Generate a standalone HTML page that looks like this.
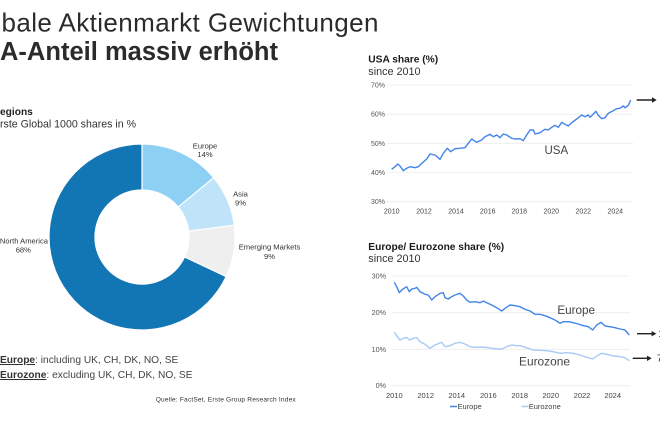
<!DOCTYPE html>
<html><head><meta charset="utf-8"><style>
html,body{margin:0;padding:0;background:#fff;}
svg{display:block;font-family:"Liberation Sans",Arial,sans-serif;}
</style></head><body>
<svg width="660" height="440" viewBox="0 0 660 440" xmlns="http://www.w3.org/2000/svg">
<rect width="660" height="440" fill="#fff"/>
<!-- Titles -->
<text x="1.5" y="31.5" font-size="26" fill="#2b2b2b" textLength="377" lengthAdjust="spacing">bale Aktienmarkt Gewichtungen</text>
<text x="0" y="60" font-size="25.5" font-weight="bold" fill="#2b2b2b" textLength="278" lengthAdjust="spacing">A-Anteil massiv erhöht</text>

<text x="0" y="115" font-size="10.2" font-weight="bold" fill="#222">egions</text>
<text x="0" y="127.5" font-size="10.6" fill="#333">rste Global 1000 shares in %</text>

<!-- Donut -->
<g stroke="#fff" stroke-width="1.2">
<path d="M142,144 A93,93 0 0 1 213.66,177.72 L178.21,207.04 A47,47 0 0 0 142,190 Z" fill="#8dd0f3"/>
<path d="M213.66,177.72 A93,93 0 0 1 234.27,225.34 L188.63,231.11 A47,47 0 0 0 178.21,207.04 Z" fill="#bfe3f8"/>
<path d="M234.27,225.34 A93,93 0 0 1 226.15,276.60 L184.53,257.01 A47,47 0 0 0 188.63,231.11 Z" fill="#efefef"/>
<path d="M226.15,276.60 A93,93 0 1 1 142,144 L142,190 A47,47 0 1 0 184.53,257.01 Z" fill="#1276b4"/>
</g>
<g font-size="7.6" fill="#333" text-anchor="middle">
<text x="205" y="148.5">Europe</text><text x="205" y="157">14%</text>
<text x="240.5" y="196.5">Asia</text><text x="240.5" y="205.5">9%</text>
<text x="269.5" y="249.5">Emerging Markets</text><text x="269.5" y="259">9%</text>
<text x="48" y="243.5" text-anchor="end">North America</text><text x="23.3" y="252.5">68%</text>
</g>

<!-- Footnotes -->
<text x="0" y="363" font-size="10.2" fill="#444"><tspan font-weight="bold" fill="#333" text-decoration="underline">Europe</tspan>: including UK, CH, DK, NO, SE</text>
<text x="0" y="378" font-size="10.2" fill="#444"><tspan font-weight="bold" fill="#333" text-decoration="underline">Eurozone</tspan>: excluding UK, CH, DK, NO, SE</text>
<text x="155.7" y="401.5" font-size="6.6" fill="#333" textLength="140" lengthAdjust="spacing">Quelle: FactSet, Erste Group Research Index</text>

<!-- USA chart -->
<text x="368.3" y="62.7" font-size="10.2" font-weight="bold" fill="#1a1a1a">USA share (%)</text>
<text x="368.3" y="75" font-size="10.8" fill="#333">since 2010</text>
<g stroke="#ececec" stroke-width="0.8">
<line x1="387" y1="85" x2="633" y2="85"/>
<line x1="387" y1="114.2" x2="633" y2="114.2"/>
<line x1="387" y1="143.3" x2="633" y2="143.3"/>
<line x1="387" y1="172.5" x2="633" y2="172.5"/>
<line x1="387" y1="201.7" x2="633" y2="201.7"/>
</g>
<g font-size="7" fill="#555" text-anchor="end">
<text x="385" y="87.5">70%</text>
<text x="385" y="116.7">60%</text>
<text x="385" y="145.8">50%</text>
<text x="385" y="175">40%</text>
<text x="385" y="204.2">30%</text>
</g>
<g font-size="7" fill="#444" text-anchor="middle">
<text x="391.7" y="213.3">2010</text>
<text x="424" y="213.3">2012</text>
<text x="456" y="213.3">2014</text>
<text x="487.7" y="213.3">2016</text>
<text x="519.3" y="213.3">2018</text>
<text x="551.3" y="213.3">2020</text>
<text x="583.3" y="213.3">2022</text>
<text x="615.3" y="213.3">2024</text>
</g>
<polyline fill="none" stroke="#4384ea" stroke-width="1.4" stroke-linejoin="round" points="391.7,169.3 395,166.7 397.7,164 400,166 403.3,170.7 406.7,168.3 410,166.7 415,167.7 418.3,166.7 423.3,162 426.7,159 430,154 435,155 440,159.3 443.3,153.3 447.3,148.3 450.7,151.7 455,148.7 460,148.3 465,147.7 468.3,143.3 471.7,139 476.7,142.3 481.7,140 485,136.7 490,134.3 493.3,136.7 496.7,135 500,137.7 503.3,134 506.7,135 511.7,138.3 515,139 520,138.7 523.3,140.7 526.7,135 530,130 533.3,130 535,134 540,132.7 545,129.3 548.3,130 551.7,127.3 555,125.3 558.3,127.3 561.7,122.3 565,124.3 568.3,126 571.7,122.7 576.7,119 581.7,115 585,116.7 588.3,115 590,117.3 593.3,114 596,111.3 598.3,115.3 601.7,118.7 605,117.7 608.3,113.3 613.3,110.7 616.7,108.7 620,108.3 623.3,106 625,107.7 628.3,105.3 630.7,100"/>
<text x="556.3" y="154" font-size="11.5" fill="#444" text-anchor="middle">USA</text>
<g stroke="#222" stroke-width="1.4" fill="#222">
<line x1="636.7" y1="100" x2="653" y2="100"/>
<path d="M656.7,100 L652,97.3 L652,102.7 Z" stroke="none"/>
</g>

<!-- Europe chart -->
<text x="368.3" y="250" font-size="10.2" font-weight="bold" fill="#1a1a1a">Europe/ Eurozone share (%)</text>
<text x="368.3" y="262" font-size="10.8" fill="#333">since 2010</text>
<g stroke="#ececec" stroke-width="0.8">
<line x1="391.7" y1="276" x2="630" y2="276"/>
<line x1="391.7" y1="312.7" x2="630" y2="312.7"/>
<line x1="391.7" y1="349.3" x2="630" y2="349.3"/>
<line x1="391.7" y1="385.7" x2="630" y2="385.7"/>
</g>
<g font-size="7.2" fill="#555" text-anchor="end">
<text x="386" y="278.5">30%</text>
<text x="386" y="315.2">20%</text>
<text x="386" y="351.8">10%</text>
<text x="386" y="388.2">0%</text>
</g>
<g font-size="7.5" fill="#444" text-anchor="middle">
<text x="394.3" y="398">2010</text>
<text x="425.7" y="398">2012</text>
<text x="456.7" y="398">2014</text>
<text x="488.3" y="398">2016</text>
<text x="519.7" y="398">2018</text>
<text x="550.7" y="398">2020</text>
<text x="582" y="398">2022</text>
<text x="612.7" y="398">2024</text>
</g>
<polyline fill="none" stroke="#a9c9f5" stroke-width="1.4" stroke-linejoin="round" points="394.3,332.3 397.3,336.7 400,340 403.3,338.3 406.7,337.3 409.3,340 413.3,338.3 416.7,337.7 420,341.7 425,344.3 430,348.3 435,345 441.7,342.3 445,346.7 450,345.7 455,343.3 460,342.3 465,344 470,346.7 475,347.3 481.7,347 488.3,347.7 496.7,349 501.7,349 506.7,346.7 511.7,345 516.7,345.7 520,345.7 523.3,346.7 528.3,348.3 533.3,350 540,350.3 546.7,350.7 553.3,351.7 560,353.3 566.7,352.7 573.3,353.3 580,355 586.7,357.3 592.7,359 596.7,356 601.7,353.3 606.7,354.3 613.3,356 620,356.7 625,357.7 629.3,360.7"/>
<polyline fill="none" stroke="#4384ea" stroke-width="1.4" stroke-linejoin="round" points="394.3,282.3 396.7,286.7 399.3,292.7 401.7,290 405,287.7 406.7,286.7 409.3,291.7 411.7,289 415,288.3 416.7,287.3 420,291.7 425,294.3 428.3,295 431.7,300 435,296.7 440,293.3 443.3,292.7 445,297.7 448.3,299 451.7,296.7 455,295 460,293.3 463.3,296 466.7,300 470,302.3 475,301.7 480,302.7 483.3,301 486.7,302.7 491.7,305 496.7,307.7 501.7,311 505,308.3 510,305 515,305.7 520,306.7 525,309.3 530,311 535,314.3 540,314.3 545,315.7 550,317.7 555,320 560,323.3 563.3,321.7 568.3,321.7 573.3,322.7 578.3,324 583.3,325.7 588.3,326.7 592.7,330 596.7,325 601,322.3 605,326 610,326.7 615,327.7 620,329 625,330 629.3,335"/>
<text x="576.2" y="313.8" font-size="11.7" fill="#444" text-anchor="middle">Europe</text>
<text x="544.5" y="365.5" font-size="11.9" fill="#444" text-anchor="middle">Eurozone</text>
<g stroke="#222" stroke-width="1.4" fill="#222">
<line x1="637" y1="333.7" x2="652.5" y2="333.7"/>
<line x1="632.7" y1="358.3" x2="648" y2="358.3"/>
</g>
<g fill="#222">
<path d="M656.3,333.7 L651.6,331 L651.6,336.4 Z"/>
<path d="M651.7,358.3 L647,355.6 L647,361 Z"/>
</g>
<text x="658.3" y="337" font-size="10" fill="#333">14%</text>
<text x="657" y="361.5" font-size="10" fill="#333">7%</text>

<!-- Legend -->
<line x1="450" y1="406.5" x2="457" y2="406.5" stroke="#4384ea" stroke-width="1.5"/>
<text x="457.5" y="409.2" font-size="7.5" fill="#444">Europe</text>
<line x1="521.7" y1="406.5" x2="528.5" y2="406.5" stroke="#a9c9f5" stroke-width="1.5"/>
<text x="528.7" y="409.2" font-size="7.5" fill="#444">Eurozone</text>
</svg>
</body></html>
